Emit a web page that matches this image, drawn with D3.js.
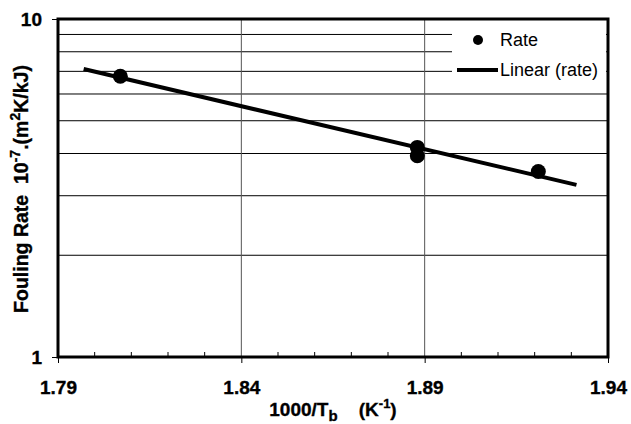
<!DOCTYPE html>
<html lang="en">
<head>
<meta charset="utf-8">
<title>Fouling rate vs 1000/Tb</title>
<script src="https://cdn.jsdelivr.net/npm/d3@7"></script>
<style>
  body { margin: 0; background: #fff; }
  svg { display: block; font-family: "Liberation Sans", Arial, sans-serif; }
  .heavy { stroke: #000; stroke-width: 0.35px; }
</style>
</head>
<body>
<div id="graph"></div>
<script>
// measured points
const invT = [1.807, 1.888, 1.888, 1.921];
const rate = [6.77, 4.17, 3.94, 3.54];
// trendline end points, as drawn
const trendX = [1.797, 1.9314];
const trendY = [7.11, 3.23];
// tick labels
const xTicks = [1.79, 1.84, 1.89, 1.94];
const xMinor = [1.80, 1.81, 1.82, 1.83, 1.85, 1.86, 1.87, 1.88, 1.90, 1.91, 1.92, 1.93];
const yTicks = [1, 10];
const yGrid = [2, 3, 4, 5, 6, 7, 8, 9];

const W = 631, H = 424;
const margin = {top: 19, right: 23, bottom: 67, left: 58};
const width = W - margin.left - margin.right;
const height = H - margin.top - margin.bottom;

const svg = d3.select("#graph").append("svg")
  .attr("width", W).attr("height", H);
const g = svg.append("g")
  .attr("transform", "translate(" + margin.left + "," + margin.top + ")");

const x = d3.scaleLinear().domain([1.79, 1.94]).range([0, width]);
const y = d3.scaleLog().domain([1, 10]).range([height, 0]);

//gridlines
g.selectAll(".hgrid").data(yGrid).enter().append("line")
  .attr("x1", 0).attr("x2", width)
  .attr("y1", d => y(d)).attr("y2", d => y(d))
  .attr("stroke", "#000").attr("stroke-width", 1);
g.selectAll(".vgrid").data(xTicks.slice(1, -1)).enter().append("line")
  .attr("x1", d => x(d)).attr("x2", d => x(d))
  .attr("y1", 0).attr("y2", height)
  .attr("stroke", "#555").attr("stroke-width", 1);

//minor ticks pointing inward
g.selectAll(".minor").data(xMinor).enter().append("line")
  .attr("x1", d => x(d)).attr("x2", d => x(d))
  .attr("y1", height).attr("y2", height - 5)
  .attr("stroke", "#000").attr("stroke-width", 1);

//x axis
const xAxis = g.append("g")
  .attr("transform", "translate(0," + height + ")")
  .call(d3.axisBottom(x).tickValues(xTicks).tickFormat(d3.format(".2f")).tickSize(6).tickPadding(18));
xAxis.select(".domain").remove();
xAxis.selectAll("text").attr("class", "heavy").attr("font-size", 19).attr("font-weight", "bold").attr("fill", "#000")
  .attr("font-family", "Liberation Sans, Arial, sans-serif");

//y axis
const yAxis = g.append("g")
  .call(d3.axisLeft(y).tickValues(yTicks).tickFormat(d3.format("d")).tickSize(6).tickPadding(10));
yAxis.select(".domain").remove();
yAxis.selectAll("text").attr("class", "heavy").attr("font-size", 19).attr("font-weight", "bold").attr("fill", "#000")
  .attr("font-family", "Liberation Sans, Arial, sans-serif");

//legend box
const lg = g.append("g").attr("transform", "translate(" + (width - 156) + ",1)");
lg.append("rect").attr("width", 154).attr("height", 60).attr("fill", "#fff");
lg.append("circle").attr("cx", 26).attr("cy", 20).attr("r", 5).attr("fill", "#000");
lg.append("text").attr("x", 48).attr("y", 26).attr("font-size", 18).text("Rate");
lg.append("line").attr("x1", 5).attr("x2", 46).attr("y1", 50).attr("y2", 50)
  .attr("stroke", "#000").attr("stroke-width", 4);
lg.append("text").attr("x", 48).attr("y", 56).attr("font-size", 18).text("Linear (rate)");

//trendline
const line = d3.line().x(d => x(d[0])).y(d => y(d[1]));
g.append("path")
  .attr("d", line(d3.zip(trendX, trendY)))
  .attr("fill", "none").attr("stroke", "#000").attr("stroke-width", 4);

//points
g.selectAll(".pt").data(d3.zip(invT, rate)).enter().append("circle")
  .attr("cx", d => x(d[0])).attr("cy", d => y(d[1])).attr("r", 7.5).attr("fill", "#000");

//frame
g.append("rect").attr("width", width).attr("height", height)
  .attr("fill", "none").attr("stroke", "#000").attr("stroke-width", 3);

//x title
const xt = g.append("text").attr("class", "heavy")
  .attr("x", width * 0.5).attr("y", height + 59)
  .attr("text-anchor", "middle").attr("font-size", 19).attr("font-weight", "bold");
xt.append("tspan").text("1000/T");
xt.append("tspan").attr("font-size", 15).attr("dy", 5).text("b");
xt.append("tspan").attr("dy", -5).text("\u00a0\u00a0\u00a0\u00a0(K");
xt.append("tspan").attr("font-size", 13).attr("dy", -8).text("-1");
xt.append("tspan").attr("dy", 8).text(")");

//y title
const yt = svg.append("text").attr("class", "heavy")
  .attr("transform", "translate(28," + 189 + ") rotate(-90)")
  .attr("text-anchor", "middle").attr("font-size", 19.5).attr("font-weight", "bold");
yt.append("tspan").text("Fouling Rate\u00a0\u00a010");
yt.append("tspan").attr("font-size", 14).attr("dy", -8).text("-7");
yt.append("tspan").attr("dy", 8).text(".(m");
yt.append("tspan").attr("font-size", 14).attr("dy", -8).text("2");
yt.append("tspan").attr("dy", 8).text("K/kJ)");
</script>
</body>
</html>
